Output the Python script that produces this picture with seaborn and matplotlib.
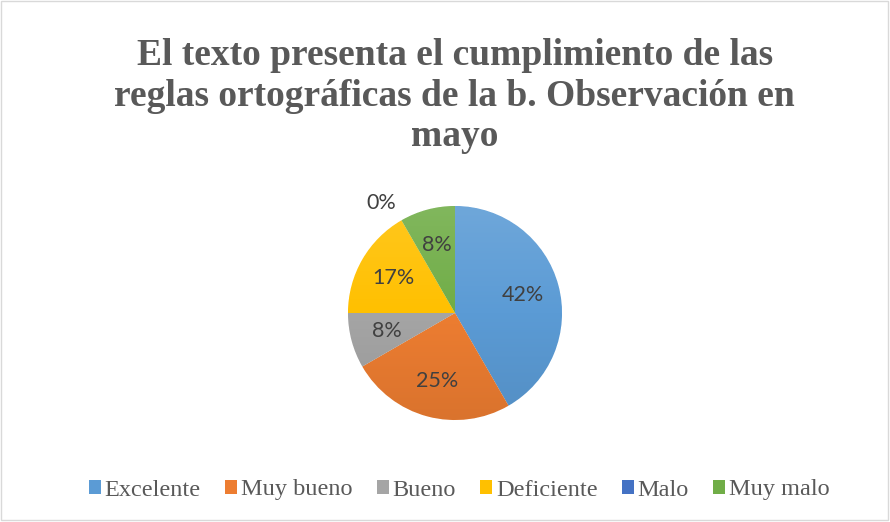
import matplotlib
matplotlib.use("Agg")
import matplotlib.pyplot as plt
import seaborn as sns
import numpy as np
from matplotlib.patches import Rectangle, Patch
from matplotlib.colors import LinearSegmentedColormap, to_rgb

categories = ["Excelente", "Muy bueno", "Bueno", "Deficiente", "Malo", "Muy malo"]
values = [5, 3, 1, 2, 0, 1]
labels_pct = ["42%", "25%", "8%", "17%", "0%", "8%"]
colors = ["#5B9BD5", "#ED7D31", "#A5A5A5", "#FFC000", "#4472C4", "#70AD47"]
title = "El texto presenta el cumplimiento de las\nreglas ortográficas de la b. Observación en\nmayo"

sns.set_theme(style="white")
sns.set_palette(colors)

fig = plt.figure(figsize=(8.9, 5.22), dpi=100)
ax = fig.add_axes([0, 0, 1, 1])
ax.set_xlim(0, 890)
ax.set_ylim(522, 0)
ax.axis("off")

pie_ax = fig.add_axes([(455 - 107) / 890, 1 - (313 + 107) / 522, 214 / 890, 214 / 522])
wedges, _ = pie_ax.pie(values, colors=colors, startangle=90, counterclock=False,
                       radius=1.0, wedgeprops=dict(linewidth=0.6, edgecolor="white"))
pie_ax.set_aspect("equal")


def shade(c, f):
    r = np.array(to_rgb(c))
    return tuple(r + (1 - r) * f) if f > 0 else tuple(r * (1 + f))


grad = np.linspace(0, 1, 256).reshape(-1, 1)
for w, c in zip(wedges, colors):
    cmap = LinearSegmentedColormap.from_list("g", [shade(c, 0.12), c, shade(c, -0.08)])
    im = pie_ax.imshow(grad, extent=(-1, 1, -1, 1), origin="upper", cmap=cmap,
                       aspect="auto", zorder=1.5)
    im.set_clip_path(w)
pie_ax.set_xlim(-1, 1)
pie_ax.set_ylim(-1, 1)

total = sum(values)
cum = 0
for v, lab in zip(values, labels_pct):
    mid = 90 - 360 * (cum + v / 2) / total
    if v > 0:
        d = 0.66
    else:
        d, mid = 1.24, mid + 4
    pie_ax.text(d * np.cos(np.radians(mid)), d * np.sin(np.radians(mid)), lab,
                ha="center", va="center", fontsize=15.5, color="#404040",
                family=["Lato", "DejaVu Sans"], clip_on=False, zorder=3)
    cum += v

fig.text(0.511, 1 - 96 / 522, title, ha="center", va="center",
         fontsize=27, fontweight="bold", color="#595959",
         family=["Liberation Serif"], linespacing=1.2)

handles = [Patch(facecolor=c, edgecolor="none") for c in colors]
fig.legend(handles, categories, loc="center", bbox_to_anchor=(0.516, 1 - 490 / 522),
           ncol=6, frameon=False, prop=dict(family="Liberation Serif", size=17.5),
           labelcolor="#595959", handlelength=0.5, handleheight=0.5,
           handletextpad=0.15, columnspacing=1.0)

ax.add_patch(Rectangle((1, 1), 887, 519, fill=False, edgecolor="#D9D9D9", linewidth=1))

fig.savefig("out.png", dpi=100)
